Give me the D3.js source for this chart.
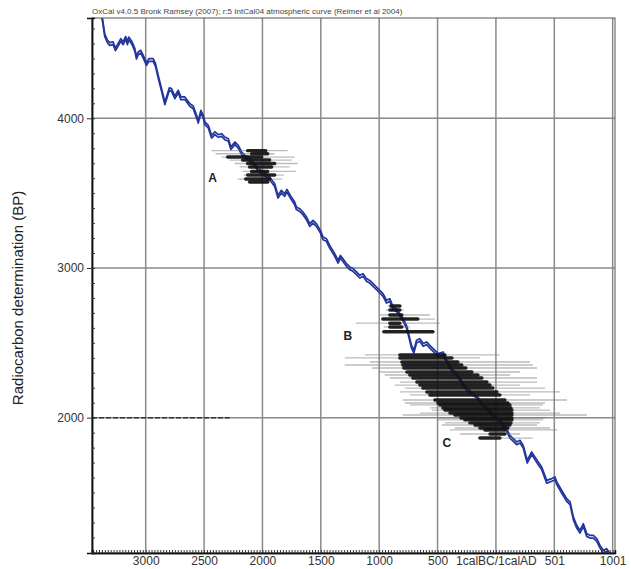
<!DOCTYPE html>
<html>
<head>
<meta charset="utf-8">
<script src="https://cdn.jsdelivr.net/npm/d3@7"></script>
<style>
  body { margin: 0; background: #fff; }
  svg { display: block; font-family: "Liberation Sans", Arial, sans-serif; }
</style>
</head>
<body>
<div id="chart"></div>
<script>
// calibration curve (cal year, BC negative / radiocarbon BP)
const curveYear = [-3385,-3370,-3351,-3327,-3308,-3279,-3259,-3242,-3213,-3193,-3171,
  -3156,-3145,-3116,-3093,-3079,-3064,-3042,-3021,-2993,-2973,
  -2936,-2916,-2893,-2864,-2836,-2822,-2798,-2779,-2750,-2721,
  -2699,-2665,-2622,-2593,-2564,-2550,-2527,-2507,-2493,-2464,
  -2436,-2407,-2378,-2350,-2322,-2292,-2270,-2236,-2207,-2178,
  -2150,-2121,-2067,-2033,-1996,-1938,-1895,-1867,-1838,-1810,
  -1790,-1761,-1724,-1709,-1681,-1653,-1623,-1595,-1567,-1538,
  -1503,-1481,-1452,-1424,-1381,-1352,-1332,-1310,-1280,-1252,
  -1224,-1195,-1166,-1138,-1109,-1081,-1052,-1023,-995,-967,
  -937,-909,-881,-852,-823,-795,-766,-744,-723,-703,
  -680,-652,-623,-594,-566,-538,-509,-495,-452,-420,
  -377,-326,-274,-223,-172,-120,-69,-17,34,92,
  120,178,206,234,268,306,334,363,392,435,
  478,506,521,563,606,635,663,692,720,749,
  778,806,834,864,892,920,949,975];
const curveBP = [4710,4657,4556,4512,4496,4501,4461,4483,4523,4501,4538,
  4501,4534,4501,4456,4405,4434,4445,4411,4363,4389,
  4389,4356,4278,4189,4100,4134,4194,4189,4140,4178,
  4134,4134,4089,4073,4011,3977,4044,4011,3967,3944,
  3877,3900,3882,3888,3866,3855,3800,3833,3810,3766,
  3743,3733,3688,3655,3633,3599,3554,3476,3510,3488,
  3516,3476,3432,3399,3387,3365,3332,3287,3309,3287,
  3242,3198,3187,3142,3087,3042,3075,3053,3020,2998,
  2987,2965,2942,2953,2920,2908,2886,2864,2842,2820,
  2775,2786,2731,2719,2686,2653,2608,2541,2474,2441,
  2508,2519,2486,2497,2474,2452,2430,2419,2430,2372,
  2319,2279,2212,2172,2145,2092,2051,2011,1978,1918,
  1873,1829,1840,1806,1706,1762,1729,1695,1662,1572,
  1584,1595,1562,1506,1450,1428,1328,1272,1238,1283,
  1216,1205,1205,1183,1138,1105,1116,1085];
const curveSigma = 9;

// dates: [BP, from95, to95, from68, to68]
const groupA = [
  [3784, -2436, -1784, -2127, -1972],
  [3763, -2401, -1895, -2093, -1955],
  [3741, -2350, -1724, -2298, -2007],
  [3721, -2281, -1750, -2170, -1938],
  [3698, -2238, -1698, -2127, -1895],
  [3675, -2195, -1767, -2110, -1921],
  [3645, -2170, -1715, -2093, -1955],
  [3621, -2161, -1818, -2127, -1895],
  [3594, -2213, -1835, -2144, -1938],
  [3574, -2127, -1895, -2110, -1955]
];
const groupB = [
  [2746, -926, -806, -900, -823],
  [2719, -943, -789, -909, -823],
  [2686, -995, -566, -909, -806],
  [2659, -969, -523, -969, -669],
  [2631, -1201, -480, -909, -823],
  [2606, -960, -738, -909, -806],
  [2574, -978, -523, -960, -540]
];
const groupC = [
  [2419, -1123, 34, -823, -437],
  [2399, -1295, -137, -823, -377],
  [2372, -1081, 292, -806, -326],
  [2352, -1295, 317, -798, -292],
  [2332, -1063, 352, -789, -257],
  [2305, -995, 206, -763, -206],
  [2285, -952, 120, -738, -154],
  [2265, -909, 352, -712, -120],
  [2238, -823, 352, -678, -77],
  [2218, -866, 206, -652, -51],
  [2198, -780, 420, -626, -26],
  [2172, -823, 549, -592, 9],
  [2152, -738, 292, -566, 34],
  [2118, -798, 609, -523, 77],
  [2098, -780, 420, -497, 103],
  [2085, -738, 403, -480, 120],
  [2065, -566, 377, -455, 129],
  [2051, -549, 463, -437, 137],
  [2031, -652, 549, -394, 137],
  [2018, -798, 780, -352, 137],
  [1998, -506, 420, -300, 137],
  [1985, -506, 403, -266, 137],
  [1965, -437, 377, -223, 129],
  [1951, -463, 352, -180, 120],
  [1931, -352, 463, -137, 103],
  [1918, -394, 523, -94, 77],
  [1891, -309, 206, -51, 77],
  [1864, -154, 317, -137, 34]
];
const wideDate = [[2000, -3460, -2110, -3460, -2281]];

const groupLabels = ["A", "B", "C"];
const labelYear = [-2427, -1269, -420];
const labelBP = [3601, 2546, 1831];

const xTicks = [-3000, -2500, -2000, -1500, -1000, -500, 0, 500, 1000];
const xLabels = ["3000", "2500", "2000", "1500", "1000", "500", "1calBC/1calAD", "501", "1001"];
const yTicks = [2000, 3000, 4000];

const title = "OxCal v4.0.5 Bronk Ramsey (2007); r:5 IntCal04 atmospheric curve (Reimer et al 2004)";

const W = 631, H = 569;
const margin = {top: 18, right: 16, bottom: 16, left: 92};

const x = d3.scaleLinear().domain([-3460, 1020]).range([margin.left, W - margin.right]);
const y = d3.scaleLinear().domain([1096, 4670]).range([H - margin.bottom, margin.top]);

const svg = d3.select("#chart").append("svg")
  .attr("width", W).attr("height", H);

svg.append("clipPath").attr("id", "plot")
  .append("rect")
  .attr("x", margin.left).attr("y", margin.top)
  .attr("width", W - margin.right - margin.left)
  .attr("height", H - margin.bottom - margin.top);

// grid
svg.append("g").selectAll("line").data(xTicks).join("line")
  .attr("x1", d => x(d)).attr("x2", d => x(d))
  .attr("y1", margin.top).attr("y2", H - margin.bottom)
  .attr("stroke", "#8a8a8a").attr("stroke-width", 1.5);
svg.append("g").selectAll("line").data(yTicks).join("line")
  .attr("x1", margin.left).attr("x2", W - margin.right)
  .attr("y1", d => y(d)).attr("y2", d => y(d))
  .attr("stroke", "#8a8a8a").attr("stroke-width", 1.5);

const plot = svg.append("g").attr("clip-path", "url(#plot)");

// calibration curve, two lines for the 1 sigma band
const curve = curveYear.map((yr, i) => ({yr, bp: curveBP[i]}));
[curveSigma, -curveSigma].forEach(s => {
  plot.append("path")
    .datum(curve)
    .attr("d", d3.line().x(d => x(d.yr)).y(d => y(d.bp + s)))
    .attr("fill", "none")
    .attr("stroke", "#23369c")
    .attr("stroke-width", 1.7)
    .attr("stroke-linejoin", "round");
});

function drawDates(rows) {
  const g = plot.append("g");
  g.selectAll(".r95").data(rows).join("line")
    .attr("x1", d => x(d[1])).attr("x2", d => x(d[2]))
    .attr("y1", d => y(d[0])).attr("y2", d => y(d[0]))
    .attr("stroke", "#777").attr("stroke-opacity", 0.5).attr("stroke-width", 1.3);
  g.selectAll(".r68").data(rows).join("line")
    .attr("x1", d => x(d[3])).attr("x2", d => x(d[4]))
    .attr("y1", d => y(d[0])).attr("y2", d => y(d[0]))
    .attr("stroke", "#111").attr("stroke-opacity", 0.92).attr("stroke-width", 3.4)
    .attr("stroke-linecap", "round");
}
drawDates(groupA);
drawDates(groupB);
drawDates(groupC);

plot.append("g").selectAll("line").data(wideDate).join("line")
  .attr("x1", d => x(d[3])).attr("x2", d => x(d[4]))
  .attr("y1", d => y(d[0])).attr("y2", d => y(d[0]))
  .attr("stroke", "#333").attr("stroke-width", 1.6)
  .attr("stroke-dasharray", "5,2");

// group letters
svg.append("g").selectAll("text").data(groupLabels).join("text")
  .attr("x", (d, i) => x(labelYear[i])).attr("y", (d, i) => y(labelBP[i]))
  .attr("text-anchor", "middle").attr("dominant-baseline", "central")
  .attr("font-size", 12).attr("font-weight", "bold").attr("fill", "#222")
  .text(d => d);

// frame
svg.append("rect")
  .attr("x", margin.left).attr("y", margin.top)
  .attr("width", W - margin.right - margin.left)
  .attr("height", H - margin.bottom - margin.top)
  .attr("fill", "none").attr("stroke", "#555").attr("stroke-width", 1);

// axes
svg.append("g")
  .attr("transform", `translate(0,${H - margin.bottom})`)
  .call(d3.axisBottom(x).tickValues(xTicks).tickFormat((d, i) => xLabels[i]).tickSize(0).tickPadding(3));
svg.append("g")
  .attr("transform", `translate(0,${H - margin.bottom})`)
  .call(d3.axisBottom(x).tickValues(d3.range(-3450, 1020, 25)).tickSize(-3).tickFormat(""));

svg.append("g")
  .attr("transform", `translate(${margin.left},0)`)
  .call(d3.axisLeft(y).tickValues(yTicks).tickFormat(d3.format("d")).tickSize(5).tickPadding(3));
svg.append("g")
  .attr("transform", `translate(${margin.left},0)`)
  .call(d3.axisLeft(y).tickValues(d3.range(1100, 4700, 100)).tickSize(-3).tickFormat(""));

svg.selectAll(".domain").attr("stroke", "#111").attr("stroke-width", 1.5);
svg.selectAll(".tick line").attr("stroke", "#333");
svg.selectAll(".tick text").attr("font-size", 12).attr("fill", "#333")
  .attr("font-family", "\"Liberation Sans\", Arial, sans-serif");

// y title
svg.append("text")
  .attr("transform", `translate(23,${298}) rotate(-90)`)
  .attr("text-anchor", "middle")
  .attr("font-size", 15).attr("fill", "#222")
  .text("Radiocarbon determination (BP)");

// header
svg.append("text")
  .attr("x", margin.left).attr("y", 14)
  .attr("font-size", 8).attr("fill", "#444")
  .text(title);
</script>
</body>
</html>
